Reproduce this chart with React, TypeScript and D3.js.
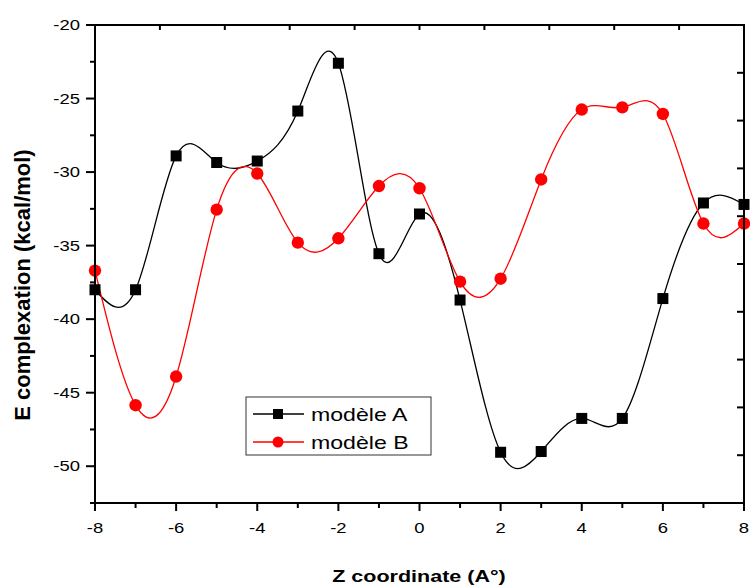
import React, { useEffect, useRef } from 'react';
import * as d3 from 'd3';

// Z coordinate (A°)
const zCoords = [-8, -7, -6, -5, -4, -3, -2, -1, 0, 1, 2, 3, 4, 5, 6, 7, 8];
// E complexation (kcal/mol)
const modeleA = [-38.0, -38.0, -28.9, -29.35, -29.25, -25.85, -22.6, -35.55, -32.85, -38.7, -49.05, -49.0, -46.75, -46.75, -38.6, -32.1, -32.2];
const modeleB = [-36.7, -45.85, -43.9, -32.55, -30.1, -34.8, -34.5, -30.95, -31.1, -37.45, -37.25, -30.5, -25.75, -25.6, -26.05, -33.5, -33.5];
const seriesNames = ['modèle A', 'modèle B'];
const xTickLabels = ['-8', '-6', '-4', '-2', '0', '2', '4', '6', '8'];
const yTickLabels = ['-20', '-25', '-30', '-35', '-40', '-45', '-50'];

const App = () => {
  const ref = useRef<SVGSVGElement>(null);

  useEffect(() => {
    const svg = d3.select(ref.current);
    svg.selectAll('*').remove();

    const left = 95, right = 744, top = 25, bottom = 503;
    const font = '"Liberation Sans", Arial, sans-serif';
    const sx = 1.32; // the original picture is stretched sideways

    const x = d3.scaleLinear().domain([-8, 8]).range([left, right]);
    const y = d3.scaleLinear().domain([-52.5, -20]).range([bottom, top]);
    // top and right axes carry 10 plain divisions
    const xDiv = d3.scaleLinear().domain([0, 10]).range([left, right]);
    const yDiv = d3.scaleLinear().domain([0, 10]).range([bottom, top]);

    const series = [
      { name: seriesNames[0], values: modeleA, color: '#000000', shape: 'square' },
      { name: seriesNames[1], values: modeleB, color: '#ff0000', shape: 'circle' },
    ];

    const line = d3.line<number>()
      .x((d, i) => x(zCoords[i]))
      .y(d => y(d))
      .curve(d3.curveNatural);

    // curves
    series.forEach(s => {
      svg.append('path')
        .datum(s.values)
        .attr('fill', 'none')
        .attr('stroke', s.color)
        .attr('stroke-width', 1.3)
        .attr('d', line);
    });

    // markers
    series.forEach(s => {
      const g = svg.append('g').attr('fill', s.color);
      if (s.shape === 'square') {
        g.selectAll('rect')
          .data(s.values)
          .enter()
          .append('rect')
          .attr('x', (d, i) => x(zCoords[i]) - 5.5)
          .attr('y', d => y(d) - 5.5)
          .attr('width', 11)
          .attr('height', 11);
      } else {
        g.selectAll('circle')
          .data(s.values)
          .enter()
          .append('circle')
          .attr('cx', (d, i) => x(zCoords[i]))
          .attr('cy', d => y(d))
          .attr('r', 6.2);
      }
    });

    // frame
    const axes = svg.append('g').attr('stroke', '#000').attr('stroke-width', 2);
    axes.append('rect')
      .attr('x', left).attr('y', top)
      .attr('width', right - left).attr('height', bottom - top)
      .attr('fill', 'none');

    // left ticks (outward)
    d3.range(-52.5, -19.9, 2.5).forEach(v => {
      const major = v % 5 === 0;
      axes.append('line')
        .attr('x1', left - (major ? 9 : 5)).attr('x2', left)
        .attr('y1', y(v)).attr('y2', y(v));
    });
    // bottom ticks (outward)
    d3.range(-8, 8.1, 1).forEach(v => {
      const major = v % 2 === 0;
      axes.append('line')
        .attr('x1', x(v)).attr('x2', x(v))
        .attr('y1', bottom).attr('y2', bottom + (major ? 8 : 5));
    });
    // top ticks (inward)
    d3.range(1, 10).forEach(k => {
      axes.append('line')
        .attr('x1', xDiv(k)).attr('x2', xDiv(k))
        .attr('y1', top).attr('y2', top + 5);
    });
    // right ticks (inward)
    d3.range(1, 10).forEach(k => {
      axes.append('line')
        .attr('x1', right - 7).attr('x2', right)
        .attr('y1', yDiv(k)).attr('y2', yDiv(k));
    });

    // tick labels
    yTickLabels.forEach(t => {
      svg.append('text')
        .attr('transform', `translate(80,${y(+t)}) scale(${sx},1)`)
        .attr('dy', '0.36em')
        .attr('text-anchor', 'end')
        .attr('font-family', font)
        .attr('font-size', 14)
        .text(t);
    });
    xTickLabels.forEach(t => {
      svg.append('text')
        .attr('transform', `translate(${x(+t)},533) scale(${sx},1)`)
        .attr('text-anchor', 'middle')
        .attr('font-family', font)
        .attr('font-size', 14)
        .text(t);
    });

    // axis titles
    svg.append('text')
      .attr('transform', `translate(419,582) scale(${sx},1)`)
      .attr('text-anchor', 'middle')
      .attr('font-family', font)
      .attr('font-size', 16.3)
      .attr('font-weight', 'bold')
      .text('Z coordinate (A°)');
    svg.append('text')
      .attr('transform', 'translate(30,285) rotate(-90)')
      .attr('text-anchor', 'middle')
      .attr('font-family', font)
      .attr('font-size', 22)
      .attr('font-weight', 'bold')
      .text('E complexation (kcal/mol)');

    // legend
    const lg = svg.append('g');
    lg.append('rect')
      .attr('x', 246).attr('y', 397)
      .attr('width', 185).attr('height', 58)
      .attr('fill', '#fff')
      .attr('stroke', '#333')
      .attr('stroke-width', 1);
    series.forEach((s, i) => {
      const cy = 414 + i * 28;
      lg.append('line')
        .attr('x1', 253).attr('x2', 304)
        .attr('y1', cy).attr('y2', cy)
        .attr('stroke', s.color)
        .attr('stroke-width', 1.3);
      if (s.shape === 'square') {
        lg.append('rect')
          .attr('x', 278 - 5).attr('y', cy - 5)
          .attr('width', 10).attr('height', 10)
          .attr('fill', s.color);
      } else {
        lg.append('circle')
          .attr('cx', 278).attr('cy', cy)
          .attr('r', 5.5)
          .attr('fill', s.color);
      }
      lg.append('text')
        .attr('transform', `translate(311,${cy + 7}) scale(${sx},1)`)
        .attr('font-family', font)
        .attr('font-size', 17.5)
        .text(s.name);
    });
  }, []);

  return (
    <svg
      ref={ref}
      width={750}
      height={586}
      style={{ position: 'absolute', left: 0, top: 0, background: '#fff' }}
    />
  );
};

export default App;
